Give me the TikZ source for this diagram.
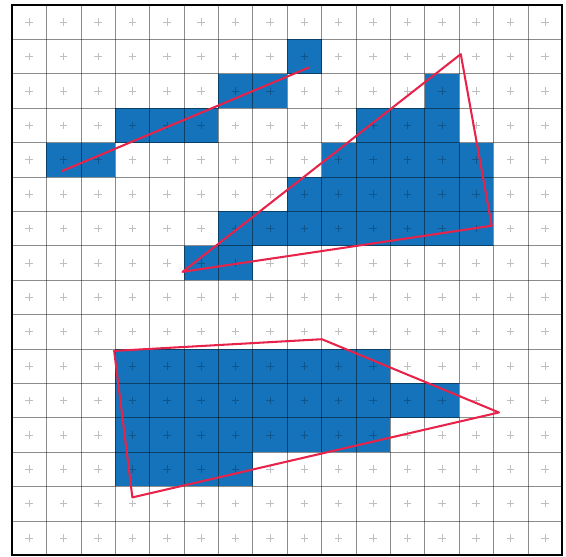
\documentclass[tikz,border=0pt]{standalone}
\usepackage{tikz}
\definecolor{cellblue}{HTML}{1473BA}
\definecolor{linered}{HTML}{E8234A}
\tikzset{
  cellfill/.style={fill=cellblue, draw=none},
  gridline/.style={draw=black, draw opacity=0.45, line width=0.45pt},
  plusmark/.style={draw=black, draw opacity=0.25, line width=0.45pt},
  redline/.style={draw=linered, line width=1.7pt, line join=round, line cap=round},
  frameline/.style={draw=black, line width=1.7pt}
}
\begin{document}
\begin{tikzpicture}
\useasboundingbox (-0.35,-0.05) rectangle (16.11,16.145);
% blue cells (col,row from top)
\foreach \c/\r in {8/1, 6/2,7/2,12/2, 3/3,4/3,5/3,10/3,11/3,12/3,
  1/4,2/4,9/4,10/4,11/4,12/4,13/4,
  8/5,9/5,10/5,11/5,12/5,13/5,
  6/6,7/6,8/6,9/6,10/6,11/6,12/6,13/6,
  5/7,6/7,
  3/10,4/10,5/10,6/10,7/10,8/10,9/10,10/10,
  3/11,4/11,5/11,6/11,7/11,8/11,9/11,10/11,11/11,12/11,
  3/12,4/12,5/12,6/12,7/12,8/12,9/12,10/12,
  3/13,4/13,5/13,6/13}
  \path[cellfill] (\c,15-\r) rectangle ++(1,1);
% grid
\foreach \i in {1,...,15} {
  \draw[gridline] (\i,0) -- (\i,16);
  \draw[gridline] (0,\i) -- (16,\i);
}
% plus marks
\foreach \i in {0,...,15} {
  \foreach \j in {0,...,15} {
    \draw[plusmark] (\i+0.5-0.11,\j+0.5) -- (\i+0.5+0.11,\j+0.5)
                    (\i+0.5,\j+0.5-0.11) -- (\i+0.5,\j+0.5+0.11);
  }
}
% frame
\draw[frameline] (0,0) rectangle (16,16);
% red shapes
\coordinate (a1) at (1.45,11.17);
\coordinate (a2) at (8.63,14.18);
\draw[redline] (a1) -- (a2);
\coordinate (t1) at (13.05,14.57);
\coordinate (t2) at (13.95,9.58);
\coordinate (t3) at (4.96,8.24);
\draw[redline] (t1) -- (t2) -- (t3) -- cycle;
\coordinate (q1) at (2.97,5.94);
\coordinate (q2) at (9.01,6.28);
\coordinate (q3) at (14.16,4.15);
\coordinate (q4) at (3.5,1.68);
\draw[redline] (q1) -- (q2) -- (q3) -- (q4) -- cycle;
\end{tikzpicture}
\end{document}
